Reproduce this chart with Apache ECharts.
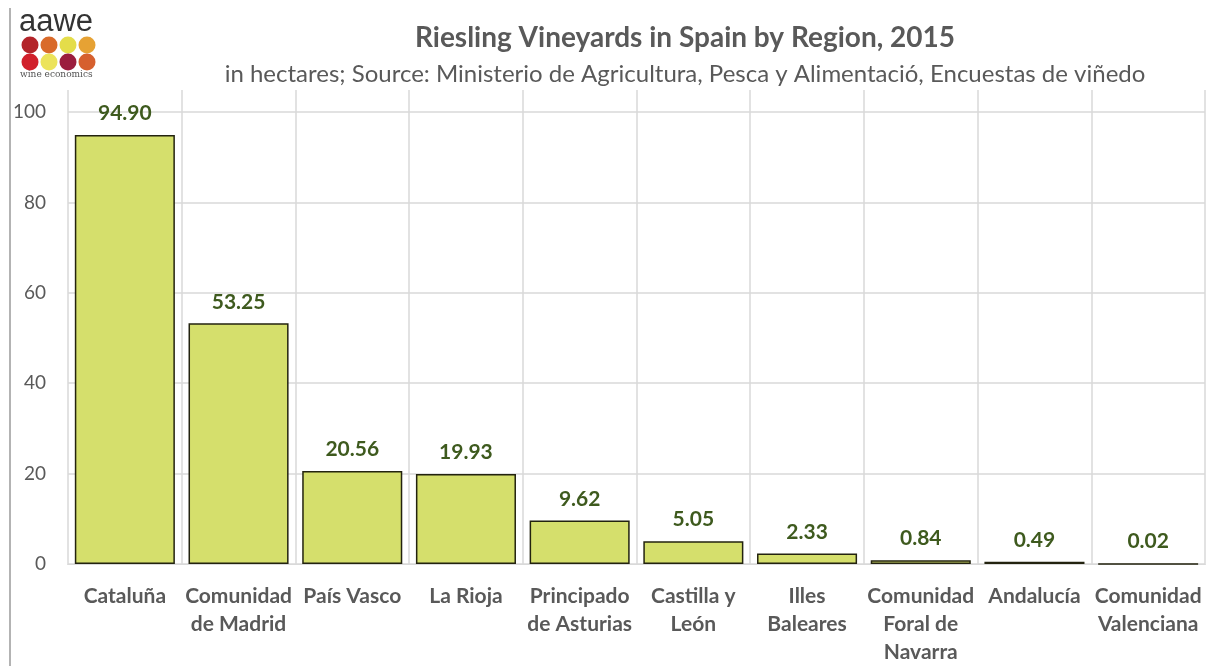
<!DOCTYPE html>
<html>
<head>
<meta charset="utf-8">
<script src="https://cdn.jsdelivr.net/npm/echarts@6/dist/echarts.min.js"></script>
<style>html,body{margin:0;padding:0;background:#fff;}#c{width:1211px;height:666px;}</style>
</head>
<body>
<div id="c"></div>
<script>
const categories = ['Cataluña', 'Comunidad\nde Madrid', 'País Vasco', 'La Rioja', 'Principado\nde Asturias', 'Castilla y\nLeón', 'Illes\nBaleares', 'Comunidad\nForal de\nNavarra', 'Andalucía', 'Comunidad\nValenciana'];
const hectares = [94.90, 53.25, 20.56, 19.93, 9.62, 5.05, 2.33, 0.84, 0.49, 0.02];
const yTicks = [0, 20, 40, 60, 80, 100];
const titleText = 'Riesling Vineyards in Spain by Region, 2015';
const subtitleText = 'in hectares; Source: Ministerio de Agricultura, Pesca y Alimentació, Encuestas de viñedo';

const FONT = 'Lato, "Open Sans", sans-serif';
const GRAY = '#595959';
const chart = echarts.init(document.getElementById('c'), null, {renderer: 'canvas'});

const dotColors = ['#b3242a', '#d96a2a', '#e4dd4a', '#e6a234', '#d11f2b', '#ece35a', '#9b1d3e', '#d6602e'];
const logo = [];
dotColors.forEach((c, i) => {
  const col = i % 4, row = Math.floor(i / 4);
  logo.push({type: 'circle', shape: {cx: 30 + col * 19, cy: 45 + row * 17, r: 8.5}, style: {fill: c}});
});

chart.setOption({
  backgroundColor: '#fff',
  animation: false,
  title: [
    {text: titleText, left: 680, textAlign: 'center', top: 19,
     textStyle: {fontFamily: FONT, fontSize: 28, fontWeight: 'bold', color: GRAY}},
    {text: subtitleText, left: 680, textAlign: 'center', top: 57,
     textStyle: {fontFamily: FONT, fontSize: 24, fontWeight: 'normal', color: GRAY}}
  ],
  graphic: [
    {type: 'line', shape: {x1: 10, y1: 8, x2: 10, y2: 666}, style: {stroke: '#9a9a9a', lineWidth: 1.5}},
    {type: 'text', left: 19, top: 7, style: {text: 'aawe', font: '31px "Liberation Sans", sans-serif', fill: '#333'}},
    ...logo,
    {type: 'text', left: 20, top: 70, style: {text: 'wine economics', font: '9px "DejaVu Serif", serif', fill: '#555'}}
  ],
  grid: [
    {left: 68, right: 6, top: 112, bottom: 101},
    {left: 68, right: 6, top: 90, bottom: 101}
  ],
  xAxis: [
    {type: 'category', gridIndex: 0, data: categories, boundaryGap: true,
     axisLine: {show: true, lineStyle: {color: '#d9d9d9', width: 1}},
     axisTick: {show: false}, splitLine: {show: false},
     axisLabel: {interval: 0, margin: 18, fontFamily: FONT, fontSize: 21, fontWeight: 'bold', color: GRAY, lineHeight: 28}},
    {type: 'category', gridIndex: 1, data: categories, boundaryGap: true,
     axisLine: {show: false}, axisTick: {show: false}, axisLabel: {show: false},
     splitLine: {show: true, lineStyle: {color: '#d9d9d9', width: 1.5}}}
  ],
  yAxis: [
    {type: 'value', gridIndex: 0, min: yTicks[0], max: yTicks[yTicks.length - 1], interval: 20,
     axisLine: {show: false}, axisTick: {show: false},
     axisLabel: {margin: 22, fontFamily: FONT, fontSize: 19, color: GRAY},
     splitLine: {show: true, lineStyle: {color: '#d9d9d9', width: 1.5}}},
    {type: 'value', gridIndex: 1, min: 0, max: 1, show: false, splitLine: {show: false}}
  ],
  series: [{
    type: 'bar', xAxisIndex: 0, yAxisIndex: 0,
    data: hectares,
    barCategoryGap: '12%',
    itemStyle: {color: '#d5df6c', borderColor: '#23230f', borderWidth: 1.5},
    label: {show: true, position: 'top', distance: 11,
      formatter: p => p.value.toFixed(2),
      fontFamily: FONT, fontSize: 21, fontWeight: 'bold', color: '#3e5a1e'}
  }]
});
</script>
</body>
</html>
